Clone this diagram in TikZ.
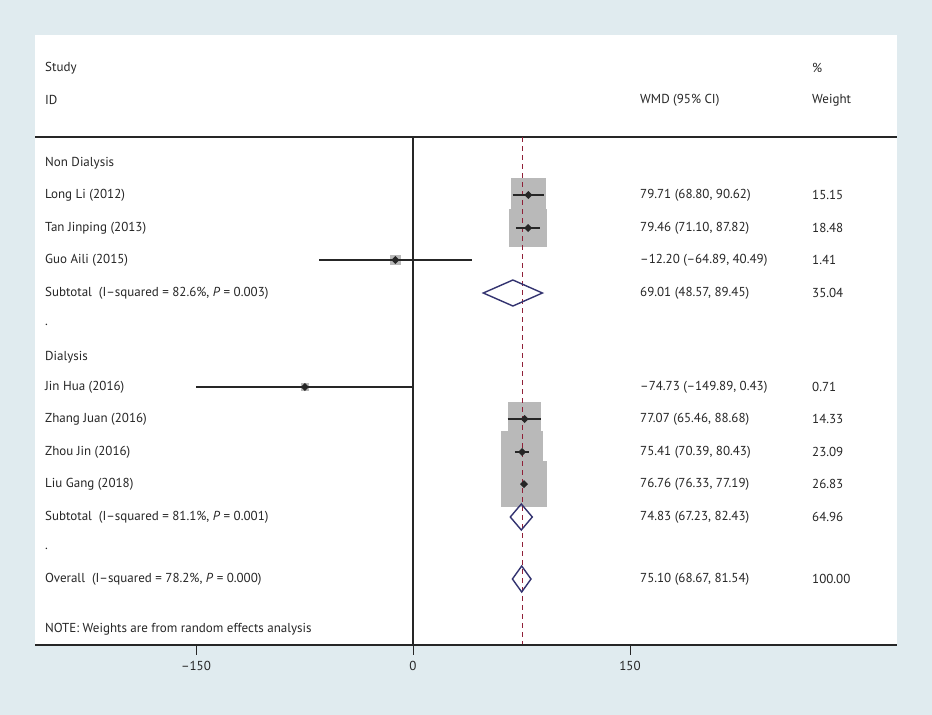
\documentclass[tikz,border=0pt]{standalone}
\usepackage{fontspec}
\setmainfont{PT Sans}
\begin{document}
\begin{tikzpicture}[x=1pt,y=-1pt,
  lbl/.style={anchor=west,inner sep=0,font=\fontsize{13}{15}\selectfont,text=black!85},
  ci/.style={line width=1.6pt,black!85},
  wbox/.style={fill=gray!55!white,draw=none},
  pt/.style={fill=black!85,draw=none},
  dia/.style={draw=blue!30!black!80,line width=1.4pt,line join=miter}]
\definecolor{bg}{HTML}{E0EBEF}
\definecolor{dred}{HTML}{902038}
\useasboundingbox (0,0) rectangle (932,715);
\fill[bg] (0,0) rectangle (932,715);
\fill[white] (35,35) rectangle (897,645);
% header
\node[lbl] (hs) at (45,68) {Study};
\node[lbl] (hid) at (45,100) {ID};
\node[lbl] (hw) at (640,100) {WMD (95\% CI)};
\node[lbl] (hp) at (812,68) {\%};
\node[lbl] (hwt) at (812,100) {Weight};
\draw[line width=1.2pt,black!85] (35,137) -- (897,137);
% weight boxes (k=8.9)
\def\wb#1#2#3{\pgfmathsetmacro\h{8.9*sqrt(#3)/2}\fill[wbox] (#1-\h,#2-\h) rectangle (#1+\h,#2+\h);}
\wb{528.3}{195}{15.15}
\wb{528}{228}{18.48}
\wb{395.3}{260}{1.41}
\wb{304.9}{387}{0.71}
\wb{524.5}{419}{14.33}
\wb{522.1}{452}{23.09}
\wb{524}{484}{26.83}
% zero line and dashed overall line
\draw[line width=1.2pt,black!85] (413,137) -- (413,645);
\draw[dred,dash pattern=on 5pt off 4pt,line width=0.8pt] (522,137) -- (522,645);
% CIs
\def\cil#1#2#3#4#5{\coordinate (#1a) at (#2,#4); \coordinate (#1b) at (#3,#4); \draw[ci] (#1a) -- (#1b); \fill[pt] (#5,#4-4) -- (#5+4,#4) -- (#5,#4+4) -- (#5-4,#4) -- cycle;}
\cil{ll}{512.6}{544.1}{195}{528.3}
\cil{tj}{515.8}{540.1}{228}{528}
\cil{ga}{319.1}{471.6}{260}{395.3}
\cil{jh}{196.1}{413.6}{387}{304.9}
\cil{zj}{507.7}{541.3}{419}{524.5}
\cil{zh}{514.9}{529.3}{452}{522.1}
\cil{lg}{523.5}{524.7}{484}{524}
% diamonds
\def\dm#1#2#3#4{\draw[dia] (#2,#1) -- (#3,#1-13) -- (#4,#1) -- (#3,#1+13) -- cycle;}
\dm{293}{483.3}{512.9}{542.4}
\dm{517}{510.3}{521.3}{532.3}
\dm{579}{512.4}{521.7}{531}
% text rows
\node[lbl] (nd) at (45,163) {Non Dialysis};
\node[lbl] (r1) at (45,195) {Long Li (2012)};
\node[lbl] (r2) at (45,228) {Tan Jinping (2013)};
\node[lbl] (r3) at (45,260) {Guo Aili (2015)};
\node[lbl] (s1) at (45,293) {Subtotal\ \ (I--squared = 82.6\%, \textit{P} = 0.003)};
\node[lbl] (d1) at (45,325) {.};
\node[lbl] (dl) at (45,357) {Dialysis};
\node[lbl] (r4) at (45,387) {Jin Hua (2016)};
\node[lbl] (r5) at (45,419) {Zhang Juan (2016)};
\node[lbl] (r6) at (45,452) {Zhou Jin (2016)};
\node[lbl] (r7) at (45,484) {Liu Gang (2018)};
\node[lbl] (s2) at (45,517) {Subtotal\ \ (I--squared = 81.1\%, \textit{P} = 0.001)};
\node[lbl] (d2) at (45,549) {.};
\node[lbl] (ov) at (45,579) {Overall\ \ (I--squared = 78.2\%, \textit{P} = 0.000)};
\node[lbl] (nt) at (45,629) {NOTE: Weights are from random effects analysis};
% WMD col
\node[lbl] (w1) at (640,195) {79.71 (68.80, 90.62)};
\node[lbl] (w2) at (640,228) {79.46 (71.10, 87.82)};
\node[lbl] (w3) at (640,260) {--12.20 (--64.89, 40.49)};
\node[lbl] (w4) at (640,293) {69.01 (48.57, 89.45)};
\node[lbl] (w5) at (640,387) {--74.73 (--149.89, 0.43)};
\node[lbl] (w6) at (640,419) {77.07 (65.46, 88.68)};
\node[lbl] (w7) at (640,452) {75.41 (70.39, 80.43)};
\node[lbl] (w8) at (640,484) {76.76 (76.33, 77.19)};
\node[lbl] (w9) at (640,517) {74.83 (67.23, 82.43)};
\node[lbl] (w10) at (640,579) {75.10 (68.67, 81.54)};
% weight col
\node[lbl] (p1) at (812,195) {15.15};
\node[lbl] (p2) at (812,228) {18.48};
\node[lbl] (p3) at (812,260) {1.41};
\node[lbl] (p4) at (812,293) {35.04};
\node[lbl] (p5) at (812,387) {0.71};
\node[lbl] (p6) at (812,419) {14.33};
\node[lbl] (p7) at (812,452) {23.09};
\node[lbl] (p8) at (812,484) {26.83};
\node[lbl] (p9) at (812,517) {64.96};
\node[lbl] (p10) at (812,579) {100.00};
% axis
\draw[line width=1.2pt,black!85] (35,645) -- (897,645);
\foreach \x/\l in {196/--150,413/0,630/150}{
  \draw[line width=1pt,black!85] (\x,645) -- (\x,655);
  \node[lbl,anchor=center] at (\x,666) {\l};}
\end{tikzpicture}
\end{document}
